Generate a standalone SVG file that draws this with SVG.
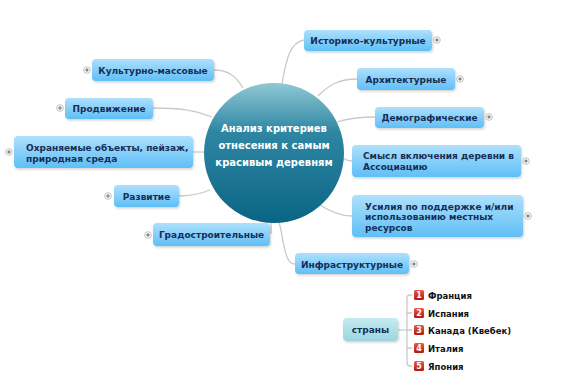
<svg xmlns="http://www.w3.org/2000/svg" width="571" height="387" viewBox="0 0 571 387">
<defs>
<linearGradient id="gBox" x1="0" y1="0" x2="0" y2="1">
<stop offset="0" stop-color="#aee0fc"/>
<stop offset="1" stop-color="#5fbff6"/>
</linearGradient>
<linearGradient id="gTeal" x1="0" y1="0" x2="0" y2="1">
<stop offset="0" stop-color="#c6ebf0"/>
<stop offset="1" stop-color="#9bd5df"/>
</linearGradient>
<linearGradient id="gCircle" x1="0" y1="0" x2="0" y2="1">
<stop offset="0" stop-color="#8fc8d4"/>
<stop offset="0.35" stop-color="#2e86a3"/>
<stop offset="1" stop-color="#0a6584"/>
</linearGradient>
<linearGradient id="gRed" x1="0" y1="0" x2="0" y2="1">
<stop offset="0" stop-color="#ec5a48"/>
<stop offset="1" stop-color="#b0190f"/>
</linearGradient>
<filter id="sh" x="-10%" y="-20%" width="130%" height="160%">
<feDropShadow dx="1" dy="1.5" stdDeviation="1" flood-color="#000" flood-opacity="0.18"/>
</filter>
<g id="plus">
<circle r="3.3" fill="#fff" stroke="#b0b0b0" stroke-width="0.8"/>
<path d="M-1.8,0H1.8M0,-1.8V1.8" stroke="#444" stroke-width="0.8"/>
</g>
</defs>
<style>
.box{fill:url(#gBox);filter:url(#sh)}
.t{font-family:"DejaVu Sans",Verdana,sans-serif;font-weight:bold;font-size:9px;fill:#172d55}
.c{text-anchor:middle}
.con path{fill:none;stroke:#c9c9c9;stroke-width:1.3}
.ct{font-family:"DejaVu Sans",Verdana,sans-serif;font-weight:bold;font-size:10px;fill:#fff;text-anchor:middle}
.lt{font-family:"DejaVu Sans",Verdana,sans-serif;font-weight:bold;font-size:8.5px;fill:#111}
.num{font-family:"DejaVu Sans",Verdana,sans-serif;font-weight:bold;font-size:8px;fill:#fff;text-anchor:middle}
</style>
<rect width="571" height="387" fill="#fff"/>
<g id="connectors" class="con">
<path d="M282,84 C286,60 290,42 304,40"/>
<path d="M318,96 C330,84 340,79 357,79"/>
<path d="M337,122 C350,118 360,117 375,117"/>
<path d="M343,158 C346,160 348,161 352,161"/>
<path d="M317,203 C330,212 340,216 352,216"/>
<path d="M279,222 C284,240 284,264 295,264"/>
<path d="M271,221 V233 H268"/>
<path d="M179,196 C192,196 200,194 210,190"/>
<path d="M193,152 H204"/>
<path d="M153,108 C180,108 195,110 212,117"/>
<path d="M214,70 C228,70 236,76 243,88"/>
<path d="M398,330 H407" style="stroke:#a6d9e3"/>
<path d="M412,295 H410 Q407,295 407,298 V363 Q407,366 410,366 H412 M407,313 H412 M407,330 H412 M407,348 H412"/>
</g>
<g id="center">
<circle cx="274" cy="153" r="70" fill="url(#gCircle)"/>
<text class="ct" x="274" y="131.5">Анализ критериев</text>
<text class="ct" x="274" y="148.5">отнесения к самым</text>
<text class="ct" x="274" y="165.5">красивым деревням</text>
</g>
<g id="n1"><rect class="box" x="304" y="30" width="128" height="21" rx="4"/><text class="t c" x="368" y="43.5">Историко-культурные</text><use href="#plus" x="437" y="40"/></g>
<g id="n2"><rect class="box" x="357" y="68" width="98" height="22" rx="4"/><text class="t c" x="406" y="82.5">Архитектурные</text><use href="#plus" x="460" y="79"/></g>
<g id="n3"><rect class="box" x="375" y="107" width="109" height="21" rx="4"/><text class="t c" x="429.5" y="120.5">Демографические</text><use href="#plus" x="489" y="117"/></g>
<g id="n4"><rect class="box" x="352" y="145" width="169" height="32" rx="4"/><text class="t" x="363" y="159">Смысл включения деревни в</text><text class="t" x="363" y="170">Ассоциацию</text><use href="#plus" x="526" y="161"/></g>
<g id="n5"><rect class="box" x="352" y="195" width="171" height="42" rx="4"/><text class="t" x="365" y="209.5">Усилия по поддержке и/или</text><text class="t" x="365" y="220">использованию местных</text><text class="t" x="365" y="230.5">ресурсов</text><use href="#plus" x="528" y="216"/></g>
<g id="n6"><rect class="box" x="295" y="253" width="114" height="21" rx="4"/><text class="t c" x="352" y="267.5">Инфраструктурные</text><use href="#plus" x="414" y="264"/></g>
<g id="n7"><rect class="box" x="92" y="59" width="122" height="22" rx="4"/><text class="t c" x="153" y="73.5">Культурно-массовые</text><use href="#plus" x="87" y="70"/></g>
<g id="n8"><rect class="box" x="65" y="98" width="88" height="21" rx="4"/><text class="t c" x="109" y="111.5">Продвижение</text><use href="#plus" x="60" y="108"/></g>
<g id="n9"><rect class="box" x="14" y="136" width="179" height="32" rx="4"/><text class="t" x="26" y="151">Охраняемые объекты, пейзаж,</text><text class="t" x="26" y="162">природная среда</text><use href="#plus" x="9" y="152"/></g>
<g id="n10"><rect class="box" x="114" y="185" width="65" height="22" rx="4"/><text class="t c" x="146.5" y="199.5">Развитие</text><use href="#plus" x="108" y="196"/></g>
<g id="n11"><rect class="box" x="153" y="223" width="117" height="23" rx="4"/><text class="t c" x="211.5" y="238">Градостроительные</text><use href="#plus" x="148" y="235"/></g>
<g id="n12"><rect x="343" y="318" width="55" height="23" rx="4" fill="url(#gTeal)" filter="url(#sh)"/><text class="t c" x="370.5" y="333">страны</text></g>
<g id="list">
<rect x="414" y="290" width="10" height="10" rx="1.5" fill="url(#gRed)"/><text class="num" x="419" y="298">1</text><text class="lt" x="428" y="298.5">Франция</text>
<rect x="414" y="308" width="10" height="10" rx="1.5" fill="url(#gRed)"/><text class="num" x="419" y="316">2</text><text class="lt" x="428" y="316.5">Испания</text>
<rect x="414" y="325" width="10" height="10" rx="1.5" fill="url(#gRed)"/><text class="num" x="419" y="333">3</text><text class="lt" x="428" y="333.5">Канада (Квебек)</text>
<rect x="414" y="343" width="10" height="10" rx="1.5" fill="url(#gRed)"/><text class="num" x="419" y="351">4</text><text class="lt" x="428" y="351.5">Италия</text>
<rect x="414" y="361" width="10" height="10" rx="1.5" fill="url(#gRed)"/><text class="num" x="419" y="369">5</text><text class="lt" x="428" y="369.5">Япония</text>
</g>
</svg>
